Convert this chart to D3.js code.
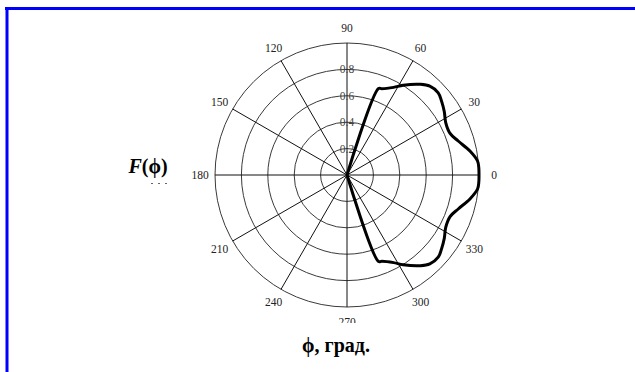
<!DOCTYPE html>
<html>
<head>
<meta charset="utf-8">
<script src="https://cdn.jsdelivr.net/npm/d3@7"></script>
<style>
  html, body { margin: 0; padding: 0; background: #fff; }
  svg { display: block; }
  text { font-family: "Liberation Serif", "Times New Roman", serif; }
</style>
</head>
<body>
<svg id="chart" width="635" height="372"></svg>
<script>
// Directional pattern F(phi), angles in degrees
const phiDeg = [-70, -70, -68, -62, -58, -51, -47, -42, -38, -33, -28, -22, -17, -11, -6, -3, 0,
                3, 6, 11, 17, 22, 28, 33, 38, 42, 47, 51, 58, 62, 68, 70, 70];
const fValues = [0, 0.698, 0.705, 0.752, 0.802, 0.884, 0.92, 0.93, 0.909, 0.879, 0.847, 0.842, 0.881, 0.949, 0.995, 1.0, 1.0,
                 1.0, 0.995, 0.949, 0.881, 0.842, 0.847, 0.879, 0.909, 0.93, 0.92, 0.884, 0.802, 0.752, 0.705, 0.698, 0];

const ringTicks = [0.2, 0.4, 0.6, 0.8, 1.0];
const ringLabels = ["0.2", "0.4", "0.6", "0.8"];
const spokeAngles = [0, 30, 60, 90, 120, 150, 180, 210, 240, 270, 300, 330];

const svg = d3.select("#chart");
const cx = 347, cy = 175;

// frame edges
svg.append("line").attr("x1", 5).attr("x2", 635).attr("y1", 8.5).attr("y2", 8.5)
  .attr("stroke", "#0000ff").attr("stroke-width", 3);
svg.append("line").attr("x1", 7).attr("x2", 7).attr("y1", 7).attr("y2", 372)
  .attr("stroke", "#0000ff").attr("stroke-width", 3);

svg.append("defs").append("clipPath").attr("id", "plotClip")
  .append("rect").attr("x", 0).attr("y", 0).attr("width", 635).attr("height", 323);

const r = d3.scaleLinear().domain([0, 1]).range([0, 132]);
const toRad = d => (90 - d) * Math.PI / 180; // d3 radial: 0 at top, clockwise

const g = svg.append("g").attr("clip-path", "url(#plotClip)")
  .append("g").attr("transform", `translate(${cx},${cy})`);

// rings
g.selectAll("circle.ring").data(ringTicks).join("circle")
  .attr("class", "ring").attr("r", d => r(d))
  .attr("fill", "none").attr("stroke", "#3a3a3a").attr("stroke-width", 1);

// spokes
g.selectAll("line.spoke").data(spokeAngles).join("line")
  .attr("class", "spoke")
  .attr("x1", 0).attr("y1", 0)
  .attr("x2", d => r(1) * Math.cos(d * Math.PI / 180))
  .attr("y2", d => -r(1) * Math.sin(d * Math.PI / 180))
  .attr("stroke", "#111").attr("stroke-width", 1);

// angle labels
g.selectAll("text.ang").data(spokeAngles).join("text")
  .attr("class", "ang")
  .attr("x", d => 147 * Math.cos(d * Math.PI / 180))
  .attr("y", d => -147 * Math.sin(d * Math.PI / 180))
  .attr("text-anchor", "middle").attr("dominant-baseline", "central")
  .attr("font-size", 11.5).attr("fill", "#222")
  .text(d => d);

// radial labels along the 90° spoke
g.selectAll("text.rl").data(ringLabels).join("text")
  .attr("class", "rl")
  .attr("x", 0).attr("y", d => -r(+d))
  .attr("text-anchor", "middle").attr("dominant-baseline", "central")
  .attr("font-size", 11.5).attr("fill", "#444")
  .text(d => d);

// pattern trace
const line = d3.lineRadial()
  .angle((d, i) => toRad(phiDeg[i]))
  .radius(d => r(d))
  .curve(d3.curveCatmullRom.alpha(0.5));
g.append("path").datum(fValues)
  .attr("d", line)
  .attr("fill", "none").attr("stroke", "#000").attr("stroke-width", 3)
  .attr("stroke-linejoin", "round");

// axis titles
const fy = svg.append("text").attr("x", 148).attr("y", 173)
  .attr("text-anchor", "middle").attr("font-size", 20).attr("font-weight", "bold");
fy.append("tspan").attr("font-style", "italic").text("F");
fy.append("tspan").text("(ϕ)");
svg.append("line").attr("x1", 151).attr("x2", 168).attr("y1", 183.5).attr("y2", 183.5)
  .attr("stroke", "#666").attr("stroke-width", 1).attr("stroke-dasharray", "2,5");

svg.append("text").attr("x", 336).attr("y", 352)
  .attr("text-anchor", "middle").attr("font-size", 20).attr("font-weight", "bold")
  .text("ϕ, град.");
</script>
</body>
</html>
